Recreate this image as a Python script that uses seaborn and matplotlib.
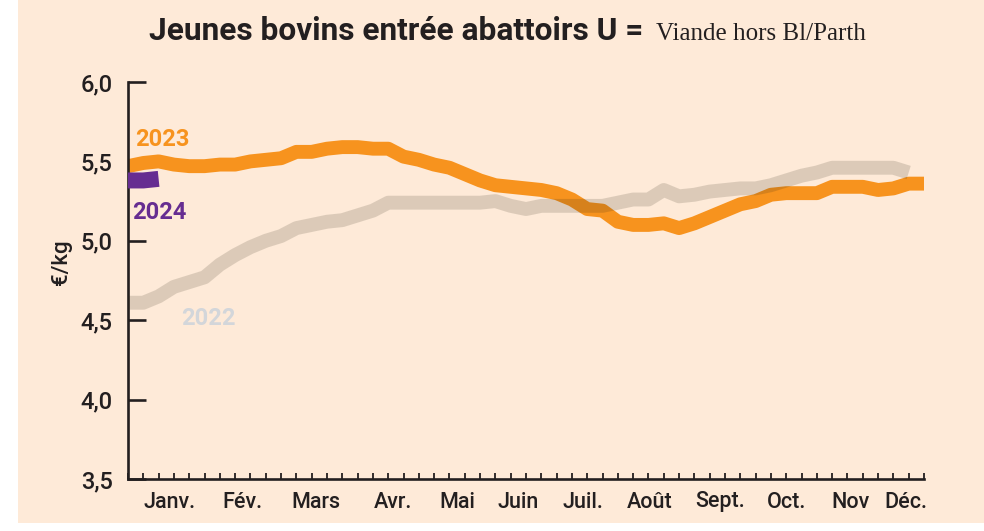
import matplotlib
matplotlib.use("Agg")
import matplotlib.pyplot as plt
import seaborn as sns
import pandas as pd
from matplotlib.patches import Rectangle

# prix hebdo (euro/kg)
val_2022 = [4.61, 4.61, 4.65, 4.71, 4.74, 4.77, 4.85, 4.91, 4.96, 5.00,
            5.03, 5.08, 5.10, 5.12, 5.13, 5.16, 5.19, 5.24, 5.24, 5.24,
            5.24, 5.24, 5.24, 5.24, 5.25, 5.22, 5.20, 5.22, 5.22, 5.22,
            5.22, 5.22, 5.24, 5.26, 5.26, 5.32, 5.28, 5.29, 5.31, 5.32,
            5.33, 5.33, 5.35, 5.38, 5.41, 5.43, 5.46, 5.46, 5.46, 5.46,
            5.46, 5.43]
val_2023 = [5.47, 5.49, 5.50, 5.48, 5.47, 5.47, 5.48, 5.48, 5.50, 5.51,
            5.52, 5.56, 5.56, 5.58, 5.59, 5.59, 5.58, 5.58, 5.53, 5.51,
            5.48, 5.46, 5.42, 5.38, 5.35, 5.34, 5.33, 5.32, 5.30, 5.26,
            5.20, 5.19, 5.12, 5.10, 5.10, 5.11, 5.08, 5.11, 5.15, 5.19,
            5.23, 5.25, 5.29, 5.30, 5.30, 5.30, 5.34, 5.34, 5.34, 5.32,
            5.33, 5.36, 5.36]
val_2024 = [5.38, 5.38, 5.39]

mois = ["Janv.", "Fév.", "Mars", "Avr.", "Mai", "Juin", "Juil.", "Août",
        "Sept.", "Oct.", "Nov", "Déc."]
mois_pos = [3.7, 8.5, 13.3, 18.3, 22.5, 26.5, 30.7, 35.1, 39.7, 44.0, 48.2, 51.8]
y_ticks = [3.5, 4.0, 4.5, 5.0, 5.5, 6.0]

orange = "#F7931E"
violet = "#662D91"
fond = "#FEEAD8"
noir = "#231F20"

df22 = pd.DataFrame({"semaine": range(1, len(val_2022) + 1), "prix": val_2022})
df23 = pd.DataFrame({"semaine": range(1, len(val_2023) + 1), "prix": val_2023})
df24 = pd.DataFrame({"semaine": range(1, len(val_2024) + 1), "prix": val_2024})

sns.set_style("ticks")
plt.rcParams['font.family'] = ['Roboto', 'DejaVu Sans']

fig = plt.figure(figsize=(9.84, 5.31), dpi=100, facecolor="white")
# fond peche (marge blanche a gauche et en bas)
fig.patches.append(Rectangle((18 / 984, 8 / 531), 1 - 18 / 984, 1 - 8 / 531,
                             transform=fig.transFigure, facecolor=fond,
                             edgecolor="none", zorder=-5))
ax = fig.add_axes([128 / 984, 1 - 479 / 531, 796 / 984, 397 / 531])
ax.set_facecolor("none")

sns.lineplot(data=df23, x="semaine", y="prix", color=orange, linewidth=10,
             solid_capstyle="butt", ax=ax, zorder=2)
sns.lineplot(data=df22, x="semaine", y="prix", color=(47 / 255, 41 / 255, 23 / 255),
             alpha=0.16, linewidth=10, solid_capstyle="butt", ax=ax, zorder=3)
sns.lineplot(data=df24, x="semaine", y="prix", color=violet, linewidth=11.5,
             solid_capstyle="butt", ax=ax, zorder=4)

ax.set_xlim(1, 53)
ax.set_ylim(3.5, 6.0)

# axes
for s in ["top", "right"]:
    ax.spines[s].set_visible(False)
for s in ["left", "bottom"]:
    ax.spines[s].set_color(noir)
    ax.spines[s].set_linewidth(1.9)

ax.set_yticks(y_ticks)
ax.set_yticklabels([f"{v:.1f}".replace(".", ",") for v in y_ticks])
ax.tick_params(axis="y", direction="in", length=13, width=1.9, color=noir,
               pad=11, labelsize=17, labelcolor=noir)

ax.xaxis.remove_overlapping_locs = False
ax.set_xticks(range(1, 54))
ax.set_xticklabels([])
ax.tick_params(axis="x", which="major", direction="in", length=4.5, width=1.3,
               color=noir)
ax.set_xticks(mois_pos, minor=True)
ax.set_xticklabels(mois, minor=True)
ax.tick_params(axis="x", which="minor", length=0, pad=9, labelsize=15.5,
               labelcolor=noir)
for t in ax.get_xticklabels(minor=True) + ax.get_yticklabels():
    t.set_fontweight("medium")

ax.set_xlabel("")
ax.set_ylabel("")
ax.text(-0.083, 0.547, "€/kg", transform=ax.transAxes, rotation=90,
        ha="center", va="center", fontsize=16, fontweight="medium", color=noir)

# etiquettes des annees
ax.text(1.45, 5.64, "2023", color=orange, fontsize=17, fontweight="bold",
        ha="left", va="center")
ax.text(1.25, 5.18, "2024", color=violet, fontsize=17, fontweight="bold",
        ha="left", va="center")
ax.text(4.45, 4.51, "2022", color="#D3D6DA", fontsize=17, fontweight="bold",
        ha="left", va="center")

# titre
fig.text(0.654, 1 - 40 / 531, "Jeunes bovins entrée abattoirs U =",
         ha="right", va="baseline", fontsize=22.8, fontweight="bold", color=noir)
fig.text(0.667, 1 - 40 / 531, "Viande hors Bl/Parth", ha="left", va="baseline",
         fontsize=18, family="Liberation Serif", color=noir)

fig.savefig("out.png", dpi=100, facecolor="white")
